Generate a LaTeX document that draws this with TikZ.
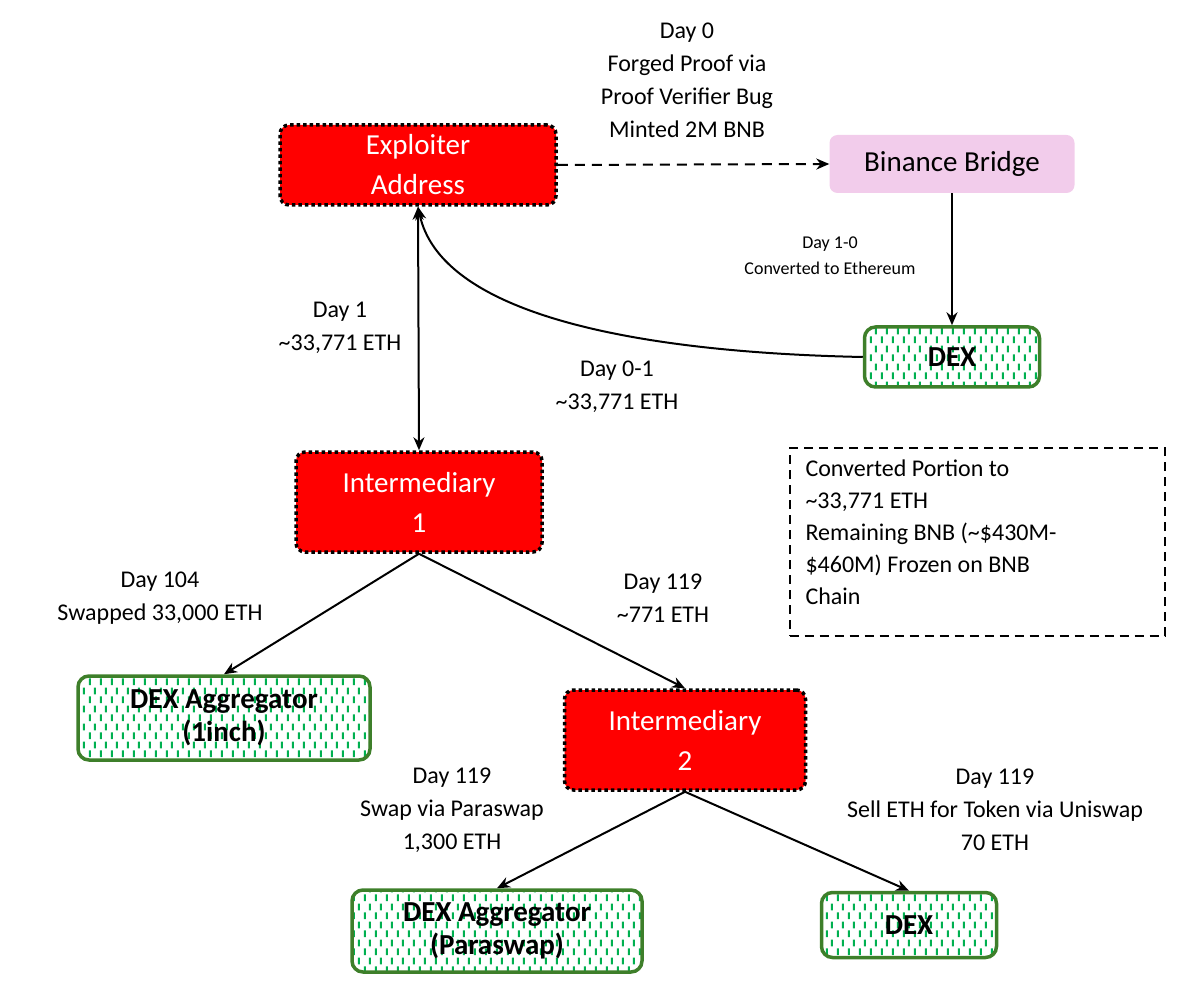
\documentclass[tikz,border=0pt]{standalone}
\usepackage{fontspec}
\setmainfont{Carlito}
\usetikzlibrary{arrows.meta,patterns}
\definecolor{gr}{HTML}{3E7F2A}
\definecolor{gd}{HTML}{00B050}
\definecolor{pk}{HTML}{F2CCEB}
\pgfdeclarepatternformonly{vdash}{\pgfpointorigin}{\pgfpoint{11pt}{18pt}}{\pgfpoint{11pt}{18pt}}{
 \pgfsetlinewidth{2pt}
 \pgfpathmoveto{\pgfpoint{2pt}{1pt}}\pgfpathlineto{\pgfpoint{2pt}{8pt}}
 \pgfpathmoveto{\pgfpoint{7.5pt}{10pt}}\pgfpathlineto{\pgfpoint{7.5pt}{17pt}}
 \pgfusepath{stroke}}
\begin{document}
\begin{tikzpicture}[x=1pt,y=-1pt,
 red/.style={draw=black,fill=red,line width=3.5pt,dash pattern=on 3.5pt off 3pt,rounded corners=9pt,text=white,font=\fontsize{29}{40}\selectfont,align=center},
 dex/.style={draw=gr,line width=3.5pt,rounded corners=11pt,pattern=vdash,pattern color=gd,font=\fontsize{29}{33}\selectfont\bfseries,align=center},
 lab/.style={font=\fontsize{24}{33}\selectfont,align=center},
 arr/.style={line width=2pt,-{Stealth[length=13pt,width=11pt]}}]
\useasboundingbox (0,0) rectangle (1200,992);
\node[red,minimum width=276pt,minimum height=80pt] (ex) at (418,165) {Exploiter\\Address};
\node[fill=pk,rounded corners=8pt,minimum width=245pt,minimum height=58pt,font=\fontsize{29}{34}\selectfont] (bb) at (952,164) {Binance Bridge};
\node[dex,minimum width=175pt,minimum height=60pt] (d1) at (952,357) {DEX};
\node[red,minimum width=246pt,minimum height=100pt] (i1) at (419,502) {Intermediary\\1};
\node[dex,minimum width=292pt,minimum height=84pt] (ag1) at (224,718) {DEX Aggregator\\(1inch)};
\node[red,minimum width=241pt,minimum height=100pt] (i2) at (685,740) {Intermediary\\2};
\node[dex,minimum width=290pt,minimum height=82pt] (ag2) at (497,931) {DEX Aggregator\\(Paraswap)};
\node[dex,minimum width=175pt,minimum height=65pt] (d2) at (909,925) {DEX};
\node[draw,dash pattern=on 9pt off 6pt,line width=2pt,minimum width=375pt,minimum height=188pt] (note) at (977,542) {};
\node[lab,align=left,anchor=north west,font=\fontsize{24}{32}\selectfont] (nt) at (802,456) {Converted Portion to\\\textasciitilde33,771 ETH\\Remaining BNB (\textasciitilde\$430M-\\\$460M) Frozen on BNB\\Chain};
\node[lab] (t0) at (687,80) {Day 0\\Forged Proof via\\Proof Verifier Bug\\Minted 2M BNB};
\draw[arr,dash pattern=on 10pt off 7pt] (ex.east) -- (bb.west);
\draw[arr] (bb.south) -- (d1.north);
\node[font=\fontsize{18}{26}\selectfont,align=center] (t1) at (830,256) {Day 1-0\\Converted to Ethereum};
\draw[arr] (d1.west) .. controls (620,352) and (440,310) .. (ex.south);
\draw[arr,{Stealth[length=13pt,width=11pt]}-{Stealth[length=13pt,width=11pt]}] (ex.south) -- (i1.north);
\node[lab] (t2) at (340,328) {Day 1\\\textasciitilde33,771 ETH};
\node[lab] (t3) at (617,387) {Day 0-1\\\textasciitilde33,771 ETH};
\draw[arr] (i1.south) -- (ag1.north);
\draw[arr] (i1.south) -- (i2.north);
\node[lab] (t4) at (160,598) {Day 104\\Swapped 33,000 ETH};
\node[lab] (t5) at (663,598) {Day 119\\\textasciitilde771 ETH};
\draw[arr] (i2.south) -- (ag2.north);
\draw[arr] (i2.south) -- (d2.north);
\node[lab] (t6) at (452,810) {Day 119\\Swap via Paraswap\\1,300 ETH};
\node[lab] (t7) at (995,810) {Day 119\\Sell ETH for Token via Uniswap\\70 ETH};
\end{tikzpicture}
\end{document}
